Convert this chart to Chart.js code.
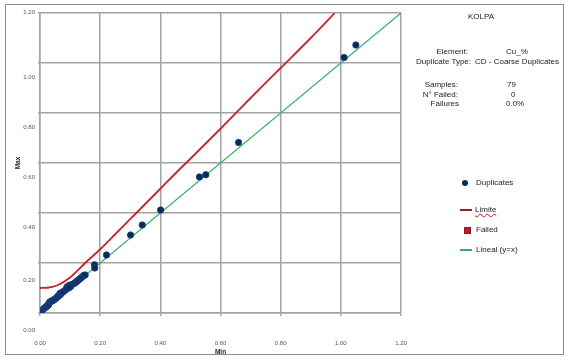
<!DOCTYPE html>
<html>
<head>
<meta charset="utf-8">
<script src="https://cdn.jsdelivr.net/npm/chart.js@4/dist/chart.umd.min.js"></script>
<style>
html,body{margin:0;padding:0;background:#fff;}
#wrap{position:relative;width:570px;height:360px;overflow:hidden;}
canvas{position:absolute;left:0;top:0;}
.frame{position:absolute;left:5px;top:4px;width:557px;height:349px;border:1px solid #8c8c8c;pointer-events:none;}
.t{position:absolute;font-family:"Liberation Sans",Arial,sans-serif;font-size:8px;color:#222;white-space:nowrap;line-height:10px;}
.r{text-align:right;}
.m{position:absolute;}
</style>
</head>
<body>
<div id="wrap">
<canvas id="c" width="570" height="360"></canvas>
<div class="frame"></div>

<div class="t" style="left:431px;width:100px;text-align:center;top:12px;">KOLPA</div>
<div class="t r" style="right:102px;top:47px;">Element:</div>
<div class="t" style="left:506px;top:47px;">Cu_%</div>
<div class="t r" style="right:99px;top:57px;">Duplicate Type:</div>
<div class="t" style="left:475px;top:57px;">CD - Coarse Duplicates</div>
<div class="t r" style="right:112px;top:80px;">Samples:</div>
<div class="t" style="left:507px;top:80px;">79</div>
<div class="t r" style="right:112px;top:90px;">N° Failed:</div>
<div class="t" style="left:511px;top:90px;">0</div>
<div class="t r" style="right:111px;top:99px;">Failures</div>
<div class="t" style="left:506px;top:99px;">0.0%</div>

<div class="m" style="left:462px;top:180px;width:6px;height:6px;border-radius:50%;background:#0a2a5e;"></div>
<div class="t" style="left:476px;top:178px;">Duplicates</div>
<div class="m" style="left:460px;top:209px;width:12px;height:2px;background:#a3191c;"></div>
<div class="t" style="left:475px;top:205px;text-decoration:underline wavy #d01010;text-decoration-thickness:1px;">Limite</div>
<div class="m" style="left:464px;top:227px;width:5px;height:5px;background:#c8102e;border:1px solid #8b1a1a;"></div>
<div class="t" style="left:476px;top:225px;">Failed</div>
<div class="m" style="left:460px;top:249px;width:12px;height:1.5px;background:#2fae68;"></div>
<div class="t" style="left:476px;top:245px;">Lineal (y=x)</div>
</div>

<script>
// Duplicate pairs (Min = lower of the pair, Max = higher of the pair), Cu %
const minValues = [0.000,0.003,0.006,0.009,0.012,0.015,0.018,0.022,0.025,0.028,0.030,0.033,0.036,0.040,0.042,0.046,0.050,0.054,0.058,0.060,0.064,0.066,0.068,0.070,0.074,0.078,0.085,0.088,0.090,0.094,0.096,0.100,0.102,0.110,0.116,0.120,0.124,0.128,0.132,0.136,0.140,0.145,0.150,0.181,0.182,0.221,0.301,0.340,0.401,0.530,0.551,0.660,1.011,1.050];
const maxValues = [0.003,0.006,0.010,0.012,0.016,0.020,0.022,0.026,0.030,0.032,0.040,0.044,0.046,0.048,0.050,0.052,0.056,0.060,0.064,0.068,0.070,0.078,0.074,0.080,0.082,0.086,0.092,0.098,0.104,0.108,0.100,0.112,0.106,0.116,0.120,0.124,0.128,0.132,0.136,0.140,0.144,0.150,0.152,0.193,0.180,0.232,0.312,0.352,0.412,0.544,0.553,0.682,1.022,1.072];

// Limit curve ("Limite")
const limitMin = [0, 0.03, 0.06, 0.10, 0.15, 0.20, 0.25, 0.316, 0.40, 0.465, 0.50, 0.60, 0.70, 0.80, 0.90, 0.98];
const limitMax = [0.100, 0.102, 0.112, 0.142, 0.200, 0.255, 0.315, 0.395, 0.497, 0.576, 0.617, 0.737, 0.860, 0.980, 1.100, 1.200];

// Failed pairs (none)
const failedMin = [];
const failedMax = [];

// Equality line y = x
const equalMin = [0, 1.2];
const equalMax = [0, 1.2];

const xTickLabels = ['0.00','0.20','0.40','0.60','0.80','1.00','1.20'];
const yTickLabels = ['0.00','0.20','0.40','0.60','0.80','1.00','1.20'];

const pairs = (a, b) => a.map((v, i) => ({x: v, y: b[i]}));

const FONT = '"Liberation Sans", Arial, sans-serif';
const GRID = '#a3a3a3';

new Chart(document.getElementById('c'), {
  type: 'scatter',
  data: {
    datasets: [
      {
        label: 'Duplicates',
        data: pairs(minValues, maxValues),
        pointRadius: 3.2,
        pointBackgroundColor: '#0a2a5e',
        pointBorderColor: '#1d437f',
        pointBorderWidth: 0.8,
        showLine: false,
        order: 0
      },
      {
        label: 'Limite',
        data: pairs(limitMin, limitMax),
        showLine: true,
        borderColor: '#c0272d',
        borderWidth: 1.8,
        pointRadius: 0,
        cubicInterpolationMode: 'monotone',
        order: 2
      },
      {
        label: 'Failed',
        data: pairs(failedMin, failedMax),
        pointStyle: 'rect',
        pointRadius: 3,
        pointBackgroundColor: '#c8102e',
        order: 1
      },
      {
        label: 'Lineal (y=x)',
        data: pairs(equalMin, equalMax),
        showLine: true,
        borderColor: '#2fae68',
        borderWidth: 1.2,
        pointRadius: 0,
        order: 3
      }
    ]
  },
  options: {
    responsive: false,
    animation: false,
    events: [],
    layout: { padding: { left: 0, right: 169, top: 13, bottom: 0 } },
    plugins: { legend: { display: false }, tooltip: { enabled: false } },
    scales: {
      x: {
        type: 'linear',
        min: 0, max: 1.2,
        ticks: {
          stepSize: 0.2,
          autoSkip: false,
          maxRotation: 0,
          padding: 24,
          color: '#555',
          font: { family: FONT, size: 6 },
          callback: (v, i) => xTickLabels[i]
        },
        grid: { color: GRID, lineWidth: 1.5, tickLength: 3, drawTicks: true },
        border: { color: GRID, width: 1.5 },
        title: { display: true, text: 'Min', color: '#222', font: { family: FONT, size: 6.5, weight: 'bold' }, padding: { top: 0, bottom: 4 } },
        afterFit: s => { s.height = 47; s.paddingLeft = 0; s.paddingRight = 0; }
      },
      y: {
        type: 'linear',
        min: 0, max: 1.2,
        ticks: {
          stepSize: 0.2,
          autoSkip: false,
          padding: 3,
          labelOffset: 14,
          color: '#555',
          font: { family: FONT, size: 6 },
          callback: (v, i) => {
            const t = yTickLabels[i];
            if (i <= 1) return ['', t];
            if (i === yTickLabels.length - 1) return [t, '', '', '', ''];
            return t;
          }
        },
        grid: { color: GRID, lineWidth: 1.5, tickLength: 2, drawTicks: true },
        border: { color: GRID, width: 1.5 },
        title: { display: true, text: 'Max', color: '#222', font: { family: FONT, size: 6.5, weight: 'bold' }, padding: { top: 14, bottom: 0 } },
        afterFit: s => { s.width = 40; s.paddingTop = 0; s.paddingBottom = 0; }
      }
    }
  }
});
</script>
</body>
</html>
